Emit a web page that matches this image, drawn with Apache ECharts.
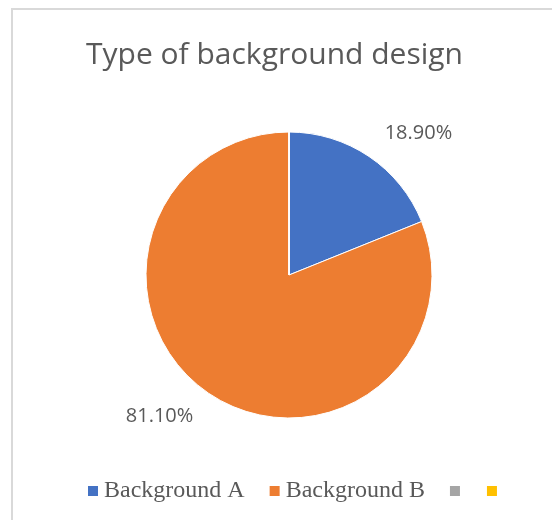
<!DOCTYPE html>
<html>
<head>
<meta charset="utf-8">
<script src="https://cdn.jsdelivr.net/npm/echarts@6/dist/echarts.min.js"></script>
<style>
	html, body {
		margin: 0;
		padding: 0;
		background: #ffffff;
	}
	#chart {
		width: 552px;
		height: 520px;
	}
</style>
</head>
<body>
<div id="chart"></div>
<script>
	// series names (last two are unnamed in the original, kept apart by whitespace)
	var categories = ['Background A', 'Background B', ' ', '  '];
	var shares = [18.9, 81.1, 0, 0];
	var colors = ['#4472C4', '#ED7D31', '#A5A5A5', '#FFC000'];

	var pieData = categories.map(function (name, i) {
		var item = {
			name: name,
			value: shares[i]
		};
		if (!shares[i]) {
			item.label = { show: false };
			item.labelLine = { show: false };
		}
		return item;
	});

	var chart = echarts.init(document.getElementById('chart'));

	var option = {
		animation: false,
		backgroundColor: '#ffffff',
		color: colors,
		graphic: [{
			type: 'rect',
			silent: true,
			shape: { x: 12, y: 9, width: 620, height: 620 },
			style: { fill: 'none', stroke: '#d9d9d9', lineWidth: 2 }
		}],
		title: {
			text: 'Type of background design',
			left: 86,
			top: 40,
			padding: 0,
			textStyle: {
				fontFamily: 'Open Sans',
				fontSize: 30,
				fontWeight: 'normal',
				color: '#595959'
			}
		},
		legend: {
			left: 86,
			top: 479,
			padding: 0,
			itemWidth: 12,
			itemHeight: 12,
			itemGap: 23,
			icon: 'rect',
			data: categories,
			formatter: function (name) {
				return name.trim();
			},
			textStyle: {
				fontFamily: 'Liberation Serif',
				fontSize: 24,
				color: '#595959'
			}
		},
		series: [{
			type: 'pie',
			center: [289, 275],
			radius: [0, 143],
			startAngle: 90,
			clockwise: true,
			avoidLabelOverlap: false,
			data: pieData,
			itemStyle: {
				borderColor: '#ffffff',
				borderWidth: 1
			},
			label: {
				show: true,
				position: 'outside',
				distanceToLabelLine: 0,
				fontFamily: 'Open Sans',
				fontSize: 20,
				color: '#595959',
				formatter: function (p) {
					return p.value.toFixed(2) + '%';
				}
			},
			labelLine: {
				show: false,
				length: 28,
				length2: 0
			}
		}]
	};

	chart.setOption(option);
</script>
</body>
</html>
